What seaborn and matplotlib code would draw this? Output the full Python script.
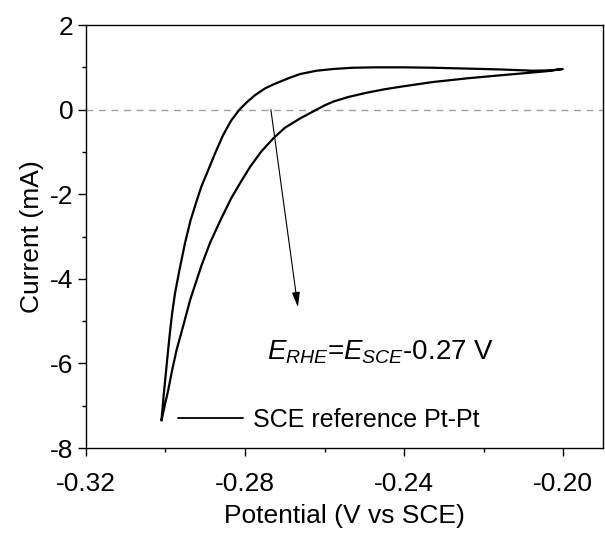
import matplotlib
matplotlib.use("Agg")
import matplotlib.pyplot as plt
import seaborn as sns
import pandas as pd

# Cathodic sweep (inner branch), from -0.20 V down to -0.30 V
sweep1_potential = [-0.2002, -0.2040, -0.2075, -0.2160, -0.2242, -0.2330, -0.2410, -0.2450,
                    -0.2494, -0.2540, -0.2578, -0.2600, -0.2620, -0.2662, -0.2700, -0.2729,
                    -0.2760, -0.2787, -0.2810, -0.2835, -0.2860, -0.2888, -0.2910, -0.2938,
                    -0.2955, -0.2972, -0.2983, -0.2993, -0.3002, -0.3010]
sweep1_current = [0.96, 0.91, 0.88, 0.81, 0.74, 0.65, 0.54, 0.48,
                  0.40, 0.30, 0.19, 0.10, 0.00, -0.21, -0.43, -0.68,
                  -1.00, -1.35, -1.70, -2.10, -2.58, -3.15, -3.70, -4.50,
                  -5.10, -5.68, -6.15, -6.63, -7.00, -7.35]
# Return sweep (outer branch), from -0.30 V back to -0.20 V
sweep2_potential = [-0.3010, -0.3005, -0.2999, -0.2994, -0.2989, -0.2983, -0.2976, -0.2965,
                    -0.2951, -0.2937, -0.2921, -0.2909, -0.2896, -0.2876, -0.2855, -0.2835,
                    -0.2814, -0.2795, -0.2775, -0.2750, -0.2730, -0.2712, -0.2690, -0.2662,
                    -0.2620, -0.2579, -0.2530, -0.2470, -0.2400, -0.2327, -0.2240, -0.2158,
                    -0.2075, -0.2030, -0.2002]
sweep2_current = [-7.35, -6.80, -6.23, -5.75, -5.29, -4.80, -4.34, -3.80,
                  -3.16, -2.62, -2.14, -1.80, -1.51, -1.05, -0.60, -0.26,
                  0.00, 0.18, 0.34, 0.50, 0.59, 0.66, 0.745, 0.84,
                  0.92, 0.96, 0.99, 1.00, 1.00, 0.99, 0.97, 0.95,
                  0.92, 0.93, 0.96]

legend_label = "SCE reference Pt-Pt"
x_ticks = [-0.32, -0.28, -0.24, -0.20]
x_minor = [-0.30, -0.26, -0.22]
y_ticks = [-8, -6, -4, -2, 0, 2]
y_minor = [-7, -5, -3, -1, 1]

sns.set_theme(style="ticks")
plt.rcParams["font.family"] = ["Liberation Sans", "DejaVu Sans"]
plt.rcParams["axes.unicode_minus"] = False
plt.rcParams["mathtext.fontset"] = "custom"
plt.rcParams["mathtext.it"] = "Liberation Sans:italic"
plt.rcParams["mathtext.rm"] = "Liberation Sans"
plt.rcParams["text.color"] = "black"
plt.rcParams["axes.labelcolor"] = "black"
plt.rcParams["xtick.color"] = "black"
plt.rcParams["ytick.color"] = "black"

df = pd.DataFrame({
    "Potential": sweep1_potential + sweep2_potential,
    "Current": sweep1_current + sweep2_current,
})

fig = plt.figure(figsize=(6.05, 5.35), dpi=100)
ax = fig.add_axes([0.142, 0.1626, 0.8547, 0.7906])

ax.axhline(0, color="#a0a0a0", lw=1.0, ls=(0, (5, 4)), zorder=1)
sns.lineplot(data=df, x="Potential", y="Current", sort=False, estimator=None,
             color="black", lw=1.6, ax=ax, label=legend_label, zorder=3)

ax.annotate("", xy=(-0.2667, -4.67), xytext=(-0.2735, 0.0),
            arrowprops=dict(arrowstyle="-|>,head_length=0.45,head_width=0.12",
                            mutation_scale=20, lw=0.8, color="black",
                            shrinkA=0, shrinkB=0))

ax.text(-0.2745, -5.90, r"$E_{RHE}$=$E_{SCE}$-0.27 V", fontsize=20,
        va="baseline", ha="left", color="black")

ax.set_xlim(-0.32, -0.19)
ax.set_ylim(-8, 2)
ax.set_xticks(x_ticks)
ax.set_xticklabels([f"{t:.2f}" for t in x_ticks])
ax.set_xticks(x_minor, minor=True)
ax.set_yticks(y_ticks)
ax.set_yticks(y_minor, minor=True)

ax.tick_params(axis="both", which="major", direction="out", length=6, width=1.0,
               labelsize=19, colors="black", pad=3)
ax.tick_params(axis="x", which="major", pad=11)
ax.tick_params(axis="both", which="minor", direction="out", length=3, width=1.0,
               colors="black")
ax.tick_params(top=False, right=False, which="both")

for sp in ax.spines.values():
    sp.set_visible(True)
    sp.set_color("black")
    sp.set_linewidth(1.0)

ax.set_xlabel("Potential (V vs SCE)", fontsize=19, labelpad=6)
ax.set_ylabel("Current (mA)", fontsize=19, labelpad=4)

leg = ax.legend(loc="center left", bbox_to_anchor=(0.178, 0.066), frameon=False,
                fontsize=18, handlelength=2.6, handletextpad=0.4,
                borderpad=0, borderaxespad=0)
for line in leg.get_lines():
    line.set_linewidth(1.3)

fig.savefig("out.png", dpi=100)
